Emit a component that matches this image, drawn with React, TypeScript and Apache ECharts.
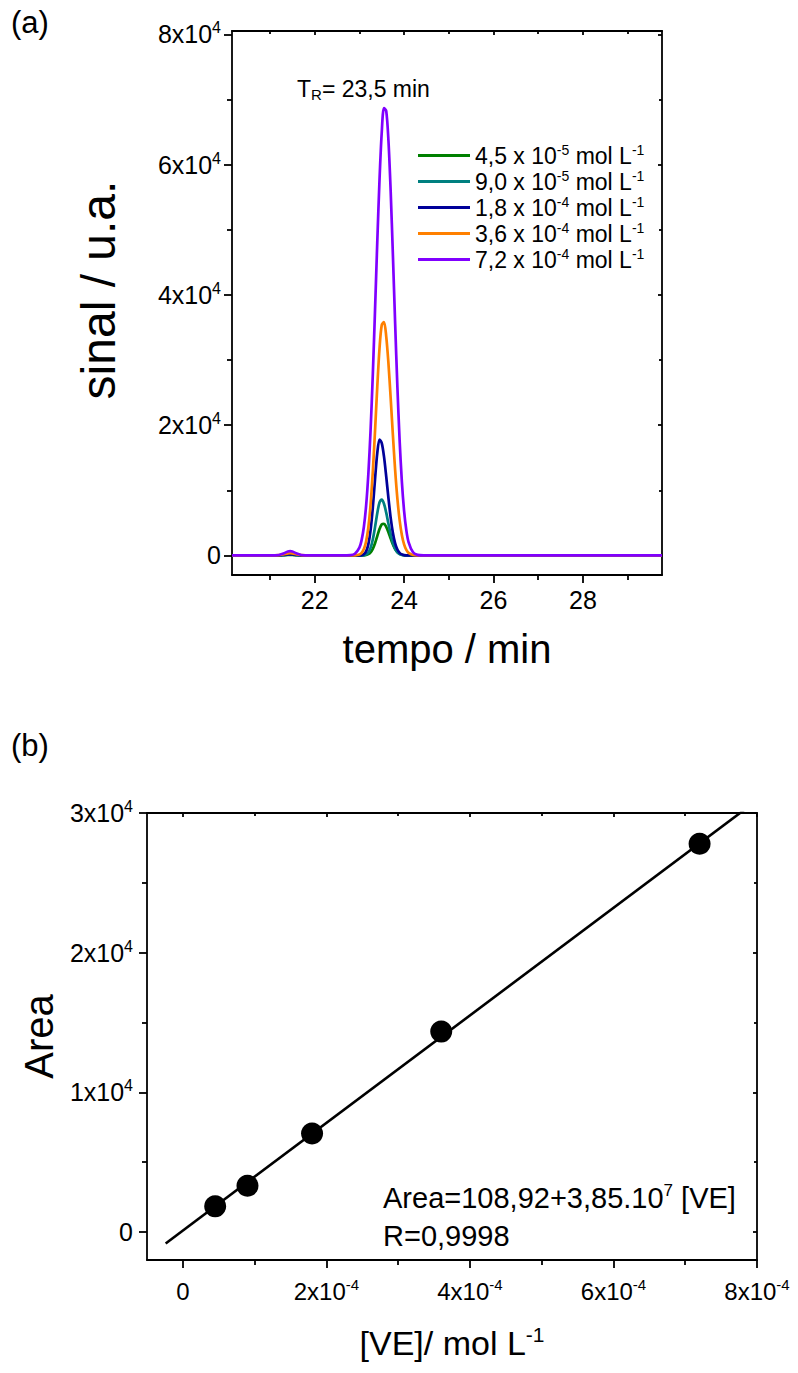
import React, { useEffect, useRef } from 'react';
import * as echarts from 'echarts';

const FONT = '"Liberation Sans", Arial, Helvetica, sans-serif';

// ---------- (a) chromatograms ----------
const time = [20.15, 21.0, 21.2, 21.3, 21.4, 21.45, 21.5, 21.6, 21.7, 21.9, 22.6, 22.8, 22.9,
  23.0, 23.05, 23.1, 23.15, 23.2, 23.25, 23.3, 23.35, 23.4, 23.45, 23.5, 23.55, 23.6, 23.65,
  23.7, 23.75, 23.8, 23.85, 23.9, 23.95, 24.0, 24.05, 24.1, 24.2, 24.3, 24.45, 24.6, 25.0, 29.77];

const signal45e5 = [0, 0, 9, 37, 73, 80, 73, 37, 9, 0, 0, 0, 0,
  1, 5, 21, 68, 196, 482, 1024, 1880, 2970, 4055, 4770, 4856, 4395, 3560,
  2580, 1670, 970, 503, 234, 97, 36, 12, 4, 0, 0, 0, 0, 0, 0];
const signal90e5 = [0, 0, 14, 55, 110, 120, 110, 55, 14, 0, 0, 0, 0,
  2, 10, 44, 156, 464, 1160, 2460, 4350, 6490, 8130, 8580, 7940, 6570, 4870,
  3230, 1910, 1015, 483, 205, 78, 27, 9, 0, 0, 0, 0, 0, 0, 0];
const signal18e4 = [0, 0, 20, 80, 165, 180, 165, 80, 20, 0, 0, 0, 0,
  11, 52, 198, 632, 1700, 3850, 7320, 11700, 15700, 17790, 17250, 15200, 12140, 8800,
  5780, 3440, 1860, 913, 406, 164, 60, 20, 0, 0, 0, 0, 0, 0, 0];
const signal36e4 = [0, 0, 40, 160, 320, 350, 320, 160, 40, 0, 0, 1, 15,
  148, 400, 973, 2150, 4290, 7790, 12820, 19120, 25880, 31770, 35370, 35800, 33640, 29490,
  24130, 18420, 13110, 8720, 5410, 3130, 1690, 850, 400, 72, 10, 0, 0, 0, 0];
const signal72e4 = [0, 0, 75, 300, 595, 650, 595, 300, 75, 0, 0, 42, 253,
  1190, 2350, 4360, 7600, 12470, 19180, 27740, 37670, 48090, 57620, 64920, 68660, 68230, 63690,
  55880, 46030, 35610, 25890, 17690, 11350, 6840, 3870, 2060, 483, 88, 5, 0, 0, 0];

const curves = [signal45e5, signal90e5, signal18e4, signal36e4, signal72e4];
const legendCoef = ['4,5', '9,0', '1,8', '3,6', '7,2'];
const legendExp = ['-5', '-5', '-4', '-4', '-4'];
const curveColors = ['#008000', '#008080', '#000099', '#FF8000', '#8000FF'];

const timeTicks = [22, 24, 26, 28];
const signalTicks = [0, 20000, 40000, 60000, 80000];

// ---------- (b) calibration ----------
const concentration = [4.5e-5, 9.0e-5, 1.8e-4, 3.6e-4, 7.2e-4];
const area = [1840, 3320, 7050, 14350, 27800];
const fitIntercept = 108.92;
const fitSlope = 3.85e7;
const fitRange = [-2.4e-5, 7.9e-4];
const concTicks = [0, 2e-4, 4e-4, 6e-4, 8e-4];
const areaTicks = [0, 10000, 20000, 30000];

const BLACK = '#000';

function sci(v: number, exp: number): string {
  if (Math.abs(v) < 1e-12) return '0';
  const m = Math.round(v / Math.pow(10, exp));
  return `${m}x10{sup|${exp}}`;
}

const supStyle = (size: number) => ({
  sup: { fontSize: size, fontFamily: FONT, color: BLACK, verticalAlign: 'top', lineHeight: size },
});

const lineStyle = { color: BLACK, width: 1.8 };

function mainX(grid: number, min: number, max: number, ticks: number[], fmt: (v: number) => string, name: any, nameGap: number, nameStyle: any, labelSize: number, margin: number) {
  return {
    type: 'value', gridIndex: grid, position: 'bottom', min, max,
    axisLine: { show: true, onZero: false, lineStyle },
    axisTick: { show: true, inside: false, length: 8, customValues: ticks, lineStyle },
    minorTick: { show: true, splitNumber: 2, length: 5, lineStyle },
    axisLabel: {
      customValues: ticks, formatter: fmt, fontSize: labelSize, fontFamily: FONT, color: BLACK,
      margin, lineHeight: labelSize + 4, rich: supStyle(Math.round(labelSize * 0.62)),
    },
    splitLine: { show: false },
    name, nameLocation: 'middle', nameGap, nameTextStyle: nameStyle,
  };
}

function mirrorX(grid: number, min: number, max: number, ticks: number[]) {
  return {
    type: 'value', gridIndex: grid, position: 'top', min, max,
    axisLine: { show: true, onZero: false, lineStyle },
    axisTick: { show: true, inside: true, length: 4, customValues: ticks, lineStyle },
    minorTick: { show: true, splitNumber: 2, length: 3, lineStyle },
    axisLabel: { show: false },
    splitLine: { show: false },
  };
}

function mainY(grid: number, min: number, max: number, ticks: number[], splitNumber: number, fmt: (v: number) => string, name: string, nameGap: number, nameStyle: any, labelSize: number, margin: number) {
  return {
    type: 'value', gridIndex: grid, position: 'left', min, max, splitNumber,
    axisLine: { show: true, onZero: false, lineStyle },
    axisTick: { show: true, inside: false, length: 8, customValues: ticks, lineStyle },
    minorTick: { show: true, splitNumber: 2, length: 5, lineStyle },
    axisLabel: {
      customValues: ticks, formatter: fmt, fontSize: labelSize, fontFamily: FONT, color: BLACK,
      margin, lineHeight: labelSize + 4, rich: supStyle(Math.round(labelSize * 0.62)),
    },
    splitLine: { show: false },
    name, nameLocation: 'middle', nameGap,
    nameTextStyle: nameStyle,
  };
}

function mirrorY(grid: number, min: number, max: number, ticks: number[], splitNumber: number) {
  return {
    type: 'value', gridIndex: grid, position: 'right', min, max, splitNumber,
    axisLine: { show: true, onZero: false, lineStyle },
    axisTick: { show: true, inside: true, length: 4, customValues: ticks, lineStyle },
    minorTick: { show: true, splitNumber: 2, length: 3, lineStyle },
    axisLabel: { show: false },
    splitLine: { show: false },
  };
}

export default function App() {
  const ref = useRef<HTMLDivElement>(null);

  useEffect(() => {
    if (!ref.current) return;
    const chart = echarts.init(ref.current, null, { renderer: 'svg' });

    const names = legendCoef.map((c, i) => `${c} x 10^${legendExp[i]} mol L^-1`);

    const curveSeries = curves.map((vals, i) => ({
      type: 'line',
      name: names[i],
      xAxisIndex: 0,
      yAxisIndex: 0,
      data: time.map((t, j) => [t, vals[j]]),
      showSymbol: false,
      symbol: 'none',
      smooth: 0.3,
      color: curveColors[i],
      lineStyle: { color: curveColors[i], width: 2.7 },
      z: 2 + i,
    }));

    const fitData = fitRange.map((x) => [x, fitIntercept + fitSlope * x]);

    const option: any = {
      animation: false,
      backgroundColor: '#fff',
      textStyle: { fontFamily: FONT },
      grid: [
        { left: 232, top: 31, width: 430, height: 544 },
        { left: 147, top: 813, width: 610, height: 447 },
      ],
      xAxis: [
        mainX(0, 20.15, 29.77, timeTicks, (v: number) => String(Math.round(v)), 'tempo / min', 54,
          { fontSize: 40, fontFamily: FONT, color: BLACK }, 25, 10),
        mirrorX(0, 20.15, 29.77, timeTicks),
        mainX(1, -5e-5, 8e-4, concTicks, (v: number) => sci(v, -4), '[VE]/ mol L{sup|-1}', 64,
          { fontSize: 34, fontFamily: FONT, color: BLACK, lineHeight: 38, rich: supStyle(21) }, 24, 17),
        mirrorX(1, -5e-5, 8e-4, concTicks),
      ],
      yAxis: [
        mainY(0, -3000, 80500, signalTicks, 5, (v: number) => sci(v, 4), 'sinal / u.a.', 110,
          { fontSize: 48, fontFamily: FONT, color: BLACK, padding: [0, 0, 0, 26] }, 25, 11),
        mirrorY(0, -3000, 80500, signalTicks, 5),
        mainY(1, -2000, 30000, areaTicks, 3, (v: number) => sci(v, 4), 'Area', 78,
          { fontSize: 40, fontFamily: FONT, color: BLACK }, 25, 14),
        mirrorY(1, -2000, 30000, areaTicks, 3),
      ],
      legend: {
        data: names,
        left: 413,
        top: 138,
        orient: 'vertical',
        icon: 'rect',
        itemWidth: 52,
        itemHeight: 3,
        itemGap: 1,
        formatter: (n: string) => {
          const i = names.indexOf(n);
          return `${legendCoef[i]} x 10{sup|${legendExp[i]}} mol L{sup|-1}`;
        },
        textStyle: { fontSize: 23, fontFamily: FONT, color: BLACK, lineHeight: 25, rich: supStyle(14) },
      },
      series: [
        ...curveSeries,
        {
          type: 'line',
          name: 'fit',
          xAxisIndex: 2,
          yAxisIndex: 2,
          data: fitData,
          showSymbol: false,
          symbol: 'none',
          clip: true,
          lineStyle: { color: BLACK, width: 2.6 },
          z: 2,
        },
        {
          type: 'scatter',
          name: 'area',
          xAxisIndex: 2,
          yAxisIndex: 2,
          data: concentration.map((c, i) => [c, area[i]]),
          symbol: 'circle',
          symbolSize: 22,
          itemStyle: { color: BLACK, opacity: 1 },
          z: 3,
        },
      ],
      graphic: [
        {
          type: 'text', x: 11, y: 22,
          style: { text: '(a)', fontSize: 31, fontFamily: FONT, fill: BLACK, verticalAlign: 'middle', textVerticalAlign: 'middle' },
        },
        {
          type: 'text', x: 11, y: 745,
          style: { text: '(b)', fontSize: 31, fontFamily: FONT, fill: BLACK, verticalAlign: 'middle', textVerticalAlign: 'middle' },
        },
        {
          type: 'text', x: 297, y: 89,
          style: {
            text: 'T{sub|R}= 23,5 min', fontSize: 23, fontFamily: FONT, fill: BLACK, lineHeight: 26,
            verticalAlign: 'middle', textVerticalAlign: 'middle',
            rich: { sub: { fontSize: 15, fontFamily: FONT, fill: BLACK, color: BLACK, verticalAlign: 'bottom', lineHeight: 14 } },
          },
        },
        {
          type: 'text', x: 383, y: 1198,
          style: {
            text: 'Area=108,92+3,85.10{sup|7} [VE]', fontSize: 29, fontFamily: FONT, fill: BLACK, lineHeight: 32,
            verticalAlign: 'middle', textVerticalAlign: 'middle',
            rich: { sup: { fontSize: 17, fontFamily: FONT, fill: BLACK, color: BLACK, verticalAlign: 'top', lineHeight: 17 } },
          },
        },
        {
          type: 'text', x: 383, y: 1236,
          style: {
            text: 'R=0,9998', fontSize: 29, fontFamily: FONT, fill: BLACK,
            verticalAlign: 'middle', textVerticalAlign: 'middle',
          },
        },
      ],
    };

    chart.setOption(option);
    return () => chart.dispose();
  }, []);

  return <div ref={ref} style={{ position: 'absolute', left: 0, top: 0, width: 798, height: 1373 }} />;
}
